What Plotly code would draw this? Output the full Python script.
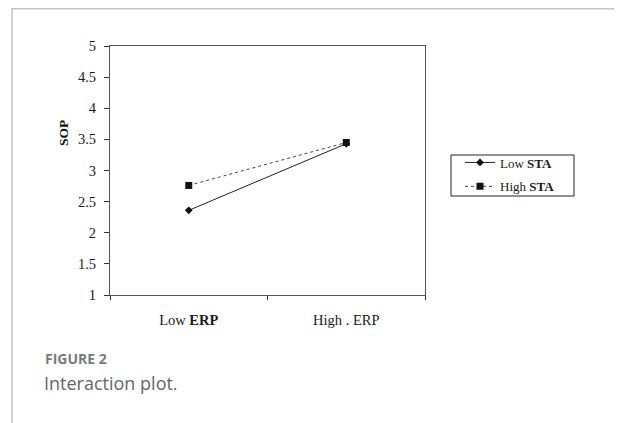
import plotly.graph_objects as go

categories = ["Low <b>ERP</b>", "High . ERP"]
low_sta = [2.36, 3.43]
high_sta = [2.76, 3.45]
series_names = ["Low <b>STA</b>", "High <b>STA</b>"]
y_ticks = [1, 1.5, 2, 2.5, 3, 3.5, 4, 4.5, 5]
y_ticktext = ["1", "1.5", "2", "2.5", "3", "3.5", "4", "4.5", "5"]

# page body adds an 8px margin; compensate
OFF = 8
W, H = 622 - OFF, 423 - OFF
L, R, T, B = 110 - OFF, 622 - 425, 46 - OFF, 423 - 295
pw, ph = W - L - R, H - T - B


def px_x(p):
    return (p - OFF - L) / pw


def px_y(p):
    return (H - B - (p - OFF)) / ph


serif = "Liberation Serif, Times New Roman, serif"

fig = go.Figure()
fig.add_trace(go.Scatter(
    x=categories, y=low_sta, name=series_names[0], mode="lines+markers",
    legendgroup="a",
    line=dict(color="#222222", width=1, dash="solid"),
    marker=dict(symbol="diamond", size=6, color="#111111"),
))
fig.add_trace(go.Scatter(
    x=categories, y=high_sta, name=series_names[1], mode="lines+markers",
    legendgroup="b",
    line=dict(color="#444444", width=1, dash="dot"),
    marker=dict(symbol="square", size=7, color="#111111"),
))

fig.update_layout(
    width=W, height=H,
    margin=dict(l=L, r=R, t=T, b=B, pad=0),
    paper_bgcolor="white", plot_bgcolor="white",
    font=dict(family=serif, size=14.5, color="#222222"),
    showlegend=True,
    legend=dict(
        x=px_x(460), y=px_y(147.5), xanchor="left", yanchor="top",
        borderwidth=0, bgcolor="rgba(0,0,0,0)",
        font=dict(family=serif, size=13, color="#1a1a1a"),
        itemwidth=30, tracegroupgap=4, traceorder="grouped",
    ),
    xaxis=dict(
        type="category", range=[-0.5, 1.5], tickson="boundaries",
        ticks="outside", ticklen=4, tickcolor="#333333",
        showline=True, linecolor="#555555", linewidth=1, mirror=True,
        showgrid=False, zeroline=False, ticklabelstandoff=12,
        tickfont=dict(family=serif, size=14.5, color="#1a1a1a"),
    ),
    yaxis=dict(
        range=[1, 5], tickvals=y_ticks, ticktext=y_ticktext,
        ticks="outside", ticklen=5, tickcolor="#333333",
        showline=True, linecolor="#555555", linewidth=1, mirror=True,
        showgrid=False, zeroline=False, ticklabelstandoff=5,
        tickfont=dict(family=serif, size=14.5, color="#1a1a1a"),
    ),
)

# legend frame
fig.add_shape(type="rect", xref="paper", yref="paper",
              x0=px_x(451), x1=px_x(574), y0=px_y(155), y1=px_y(196),
              line=dict(color="#222222", width=1), fillcolor="rgba(0,0,0,0)")

# y-axis title
fig.add_annotation(
    text="<b>SOP</b>", xref="paper", yref="paper",
    x=px_x(63), y=px_y(133), xanchor="center", yanchor="middle",
    textangle=-90, showarrow=False,
    font=dict(family=serif, size=13.5, color="#111111"),
)

# card frame
fig.add_shape(type="line", xref="paper", yref="paper",
              x0=px_x(12), x1=px_x(622), y0=px_y(8.7), y1=px_y(8.7),
              line=dict(color="#c4c4c4", width=1.5))
fig.add_shape(type="line", xref="paper", yref="paper",
              x0=px_x(12), x1=px_x(12), y0=px_y(8), y1=px_y(423),
              line=dict(color="#c4c4c4", width=1.5))

# caption
fig.add_annotation(
    text="<b>FIGURE 2</b>", xref="paper", yref="paper",
    x=px_x(43), y=px_y(358), xanchor="left", yanchor="middle", showarrow=False,
    font=dict(family="Open Sans, sans-serif", size=14, color="#7a7a7a"),
)
fig.add_annotation(
    text="Interaction plot.", xref="paper", yref="paper",
    x=px_x(42), y=px_y(383), xanchor="left", yanchor="middle", showarrow=False,
    font=dict(family="Open Sans, sans-serif", size=18, color="#666666"),
)

fig.write_html("out.html")
